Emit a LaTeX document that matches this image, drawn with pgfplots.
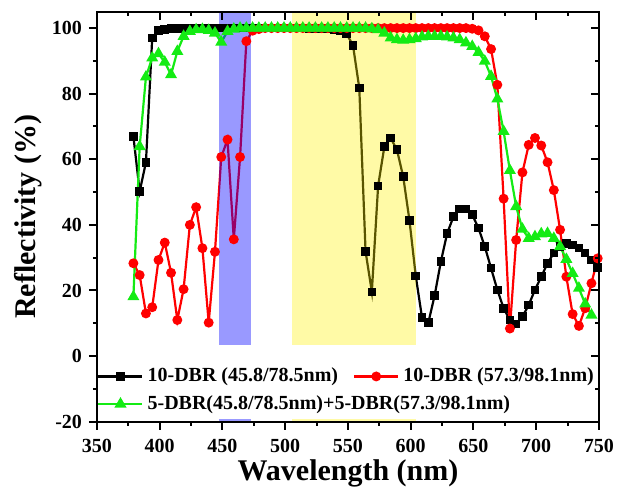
\documentclass[border=0pt]{standalone}
\usepackage{fontspec}
\setmainfont{Liberation Serif}
\usepackage{pgfplots}
\pgfplotsset{compat=1.18}
\definecolor{lgreen}{RGB}{20,235,20}
\pgfplotsset{
  legend image code/.code={\draw[mark repeat=2,mark phase=2,#1] plot coordinates {(0pt,0pt) (11pt,0pt) (22pt,0pt)};}
}
\begin{document}
\begin{tikzpicture}
\begin{axis}[
  name=ax,
  scale only axis, width=251pt, height=205pt,
  xmin=350, xmax=750, ymin=-20, ymax=105,
  xtick={350,400,...,750}, xticklabels={350,400,450,500,550,600,650,700,750},
  ytick={-20,0,...,100}, yticklabels={-20,0,20,40,60,80,100},
  minor x tick num=1, minor y tick num=1,
  xtick pos=left, ytick pos=left, tick align=outside,
  major tick length=4pt, minor tick length=2pt,
  axis line style={line width=1pt},
  tick style={line width=1pt, black},
  tick label style={font=\fontsize{10}{12}\selectfont\bfseries},
  xticklabel style={yshift=-1pt},
  xlabel={Wavelength (nm)}, ylabel={Reflectivity (\%)},
  label style={font=\fontsize{15}{18}\selectfont\bfseries},
  x label style={at={(axis description cs:0.5,-0.127)}, anchor=center},
  y label style={at={(axis description cs:-0.137,0.5)}, anchor=center},
  legend columns=2, legend cell align=left,
  legend style={at={(0,0.1441)}, anchor=north west, fill=white, draw=none,
    inner xsep=0pt, inner ysep=0.5pt, row sep=1.35pt,
    font=\fontsize{10}{12}\selectfont\bfseries,
    /tikz/every even column/.append style={column sep=5.5pt}},
]
\addplot[black, line width=1.1pt, mark=square*, mark size=1.6pt, mark options={solid}] coordinates {
(379,67) (384,50.2) (389,59.1) (394,97) (399,99.2) (404,99.6) (409,99.8) (414,99.9)
(419,100) (424,100) (429,100) (434,100) (439,100) (444,100) (449,100) (454,100) (459,100)
(464,100) (469,100) (474,100) (479,100) (484,100) (489,100) (494,100) (499,100) (504,100)
(509,100) (514,100) (519,99.9) (524,99.9) (529,99.8) (534,99.7) (539,99.5) (544,99.2)
(549,98.2) (554,94.7) (559,81.7) (564,31.9) (569,19.6) (574,51.9) (579,63.9) (584,66.5)
(589,62.9) (594,54.7) (599,41.3) (604,24.4) (609,11.7) (614,10.2) (619,18.4) (624,28.8)
(629,37.4) (634,42.5) (639,44.8) (644,44.8) (649,43.1) (654,39) (659,33.4) (664,26.8)
(669,20.2) (674,14.6) (679,11) (684,9.8) (689,12) (694,15.6) (699,20.2) (704,24.2)
(709,28.3) (714,31.4) (719,33.4) (724,34.4) (729,33.9) (734,32.9) (739,31.4) (744,29.3) (749,27)
};
\addlegendentry{10-DBR (45.8/78.5nm)}
\addplot[red, line width=1.1pt, mark=*, mark size=1.9pt] coordinates {
(379,28.3) (384,24.7) (389,13) (394,14.9) (399,29.3) (404,34.6) (409,25.4) (414,11)
(419,20.4) (424,40) (429,45.4) (434,32.9) (439,10.2) (444,31.8) (449,60.7) (454,66)
(459,35.6) (464,60.7) (469,96) (474,99.2) (479,99.7) (484,100) (489,100) (494,100)
(499,100) (504,100) (509,100) (514,100) (519,100) (524,100) (529,100) (534,100) (539,100)
(544,100) (549,100) (554,100) (559,100) (564,100) (569,100) (574,100) (579,100) (584,100)
(589,100) (594,100) (599,100) (604,100) (609,100) (614,100) (619,100) (624,100) (629,100)
(634,100) (639,100) (644,100) (649,99.8) (654,99.3) (659,97.5) (664,93.6) (669,82.7)
(674,48) (679,8.4) (684,35.4) (689,56) (694,64.4) (699,66.5) (704,64.2) (709,59.1)
(714,50.6) (719,38.5) (724,24.2) (729,12.8) (734,9.2) (739,14.6) (744,22.2) (749,29.8)
};
\addlegendentry{10-DBR (57.3/98.1nm)}
\addplot[lgreen, line width=1.1pt, mark=triangle*, mark size=2.4pt] coordinates {
(379,18.1) (384,63.9) (389,85.1) (394,90.9) (399,92.2) (404,89.6) (409,85.8) (414,92.9)
(419,97.5) (424,99) (429,99.5) (434,99.6) (439,99.3) (444,98.5) (449,95.7) (454,99)
(459,99.7) (464,100) (469,100) (474,100) (479,100) (484,100) (489,100) (494,100) (499,100)
(504,100) (509,100) (514,100) (519,100) (524,100) (529,100) (534,100) (539,100) (544,100)
(549,100) (554,100) (559,100) (564,100) (569,99.8) (574,99.5) (579,98.5) (584,97)
(589,96.5) (594,96.3) (599,96.5) (604,96.8) (609,97.3) (614,97.5) (619,97.5) (624,97.5)
(629,97.3) (634,97) (639,96.5) (644,95.5) (649,94.4) (654,92.6) (659,89.9) (664,85.3)
(669,78.4) (674,68.5) (679,56.6) (684,45.6) (689,38.7) (694,35.9) (699,36.4) (704,37.3)
(709,37.4) (714,35.9) (719,33.4) (724,29.5) (729,25.2) (734,20.7) (739,15.9) (744,12.5)
};
\addlegendentry{\makebox[0pt][l]{5-DBR(45.8/78.5nm)+5-DBR(57.3/98.1nm)}}
\fill[blue, opacity=0.4] (axis cs:447.5,3.5) rectangle (axis cs:472.5,105);
\fill[yellow, opacity=0.35] (axis cs:505.5,3.5) rectangle (axis cs:604.2,105);
\fill[blue, opacity=0.4] (axis cs:447.5,-20) rectangle (axis cs:472.5,-19.3);
\fill[yellow, opacity=0.35] (axis cs:505.5,-20) rectangle (axis cs:604.2,-19.3);
\end{axis}
\begin{axis}[
  scale only axis, width=251pt, height=205pt,
  xmin=350, xmax=750, ymin=-20, ymax=105,
  xtick={350,400,...,750}, ytick={-20,0,...,100},
  minor x tick num=1, minor y tick num=1,
  xtick pos=right, ytick pos=right, tick align=inside,
  xticklabels={}, yticklabels={},
  major tick length=4pt, minor tick length=2pt,
  axis line style={line width=1pt},
  tick style={line width=1pt, black},
]
\end{axis}
\pgfresetboundingbox
\path[use as bounding box] ([xshift=-48.5pt,yshift=-32.5pt]ax.south west) rectangle ([xshift=13.5pt,yshift=5.85pt]ax.north east);
\end{tikzpicture}
\end{document}
